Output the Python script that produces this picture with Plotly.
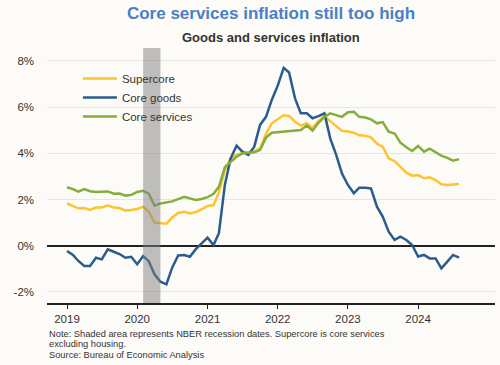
import pandas as pd
import plotly.graph_objects as go

dates = pd.date_range("2019-01-01", "2024-08-01", freq="MS")

supercore = [
    1.83, 1.72, 1.62, 1.63, 1.55, 1.65, 1.65, 1.75, 1.65, 1.63, 1.52, 1.55,
    1.59, 1.69, 1.47, 1.00, 0.97, 0.95, 1.22, 1.42, 1.47, 1.40, 1.46, 1.57,
    1.72, 1.76, 2.30, 3.28, 3.78, 3.93, 4.00, 4.03, 4.08, 4.21, 4.84, 5.30,
    5.47, 5.65, 5.62, 5.37, 5.20, 5.30, 5.10, 5.40, 5.60, 5.38, 5.17, 4.97,
    4.94, 4.89, 4.78, 4.76, 4.69, 4.42, 4.29, 3.78, 3.66, 3.40, 3.16, 3.03,
    3.06, 2.92, 2.96, 2.84, 2.66, 2.63, 2.64, 2.67,
]
core_goods = [
    -0.23, -0.40, -0.66, -0.88, -0.88, -0.52, -0.59, -0.16, -0.26, -0.36, -0.52, -0.48,
    -0.80, -0.45, -0.67, -1.25, -1.56, -1.67, -0.95, -0.42, -0.40, -0.48, -0.15, 0.10,
    0.35, 0.03, 0.54, 2.63, 3.78, 4.33, 4.07, 3.93, 4.29, 5.23, 5.58, 6.31,
    6.93, 7.70, 7.50, 6.38, 5.73, 5.73, 5.52, 5.61, 5.73, 4.65, 3.93, 3.13,
    2.63, 2.27, 2.51, 2.51, 2.48, 1.69, 1.26, 0.61, 0.25, 0.39, 0.25, 0.03,
    -0.47, -0.40, -0.55, -0.55, -0.98, -0.69, -0.40, -0.52,
]
core_services = [
    2.53, 2.45, 2.34, 2.45, 2.36, 2.33, 2.34, 2.35, 2.25, 2.26, 2.17, 2.20,
    2.33, 2.38, 2.25, 1.73, 1.83, 1.86, 1.92, 2.02, 2.12, 2.05, 1.98, 2.02,
    2.10, 2.25, 2.55, 3.40, 3.62, 3.85, 4.00, 4.02, 4.05, 4.14, 4.68, 4.89,
    4.91, 4.94, 4.96, 5.00, 5.01, 5.20, 4.98, 5.32, 5.58, 5.73, 5.65, 5.58,
    5.78, 5.80, 5.58, 5.55, 5.47, 5.30, 5.35, 4.94, 4.86, 4.46, 4.26, 4.10,
    4.32, 4.07, 4.20, 4.03, 3.90, 3.80, 3.68, 3.75,
]

series_names = ["Supercore", "Core goods", "Core services"]
series_values = [supercore, core_goods, core_services]
series_colors = ["#fbc431", "#2b5c8e", "#84ad3e"]

recession_start = "2020-02-01"
recession_end = "2020-05-01"

year_ticks = ["2019-01-01", "2020-01-01", "2021-01-01", "2022-01-01", "2023-01-01", "2024-01-01"]
year_labels = ["2019", "2020", "2021", "2022", "2023", "2024"]
y_ticks = [-2, 0, 2, 4, 6, 8]
y_labels = ["-2%", "0%", "2%", "4%", "6%", "8%"]

note_lines = [
    "Note: Shaded area represents NBER recession dates. Supercore is core services",
    "excluding housing.",
    "Source: Bureau of Economic Analysis",
]

FONT = "Liberation Sans, Arial, sans-serif"
BG = "#fcfbf7"

fig = go.Figure()
for name, vals, col in zip(series_names, series_values, series_colors):
    fig.add_trace(go.Scatter(x=dates, y=vals, name=name, mode="lines",
                             line=dict(color=col, width=2.5)))

fig.add_shape(type="rect", xref="x", yref="paper", x0=recession_start, x1=recession_end,
              y0=0, y1=1, fillcolor="rgba(128,128,128,0.5)", line=dict(width=0), layer="above")

fig.update_layout(
    width=500, height=365,
    margin=dict(l=47, r=5, t=48, b=62),
    paper_bgcolor=BG, plot_bgcolor=BG,
    font=dict(family=FONT, size=11.5, color="#333333"),
    title=dict(text="<b>Core services inflation still too high</b>", x=0.542, xanchor="center",
               y=1 - 13 / 365, yanchor="middle", xref="container", yref="container",
               font=dict(size=17, color="#4a80c4", family=FONT)),
    showlegend=True,
    legend=dict(x=0.069, y=0.937, xanchor="left", yanchor="top", bgcolor="rgba(0,0,0,0)",
                font=dict(size=11.5, color="#333333"), itemwidth=34),
    xaxis=dict(type="date", range=["2018-09-19", "2025-02-04"], tickvals=year_ticks,
               ticktext=year_labels, ticks="outside", ticklen=4, tickcolor="#222222",
               tickwidth=1, showgrid=False, showline=True, linecolor="#222222", linewidth=1.6,
               zeroline=False, tickfont=dict(size=11.5, color="#333333")),
    yaxis=dict(range=[-2.48, 8.56], tickvals=y_ticks, ticktext=y_labels, showgrid=True,
               gridcolor="#e8e6e1", gridwidth=1, zeroline=True, zerolinecolor="#222222",
               zerolinewidth=2, ticks="", ticklabelstandoff=12,
               tickfont=dict(size=11.5, color="#333333")),
)

fig.add_annotation(text="<b>Goods and services inflation</b>", xref="paper", yref="paper",
                   x=0.5, y=(303 - 38) / 255, xanchor="center", yanchor="middle",
                   showarrow=False, font=dict(size=13, color="#333333", family=FONT))

for i, line in enumerate(note_lines):
    ypix = 333.5 + i * 10.5
    fig.add_annotation(text=line, xref="paper", yref="paper", x=0, y=(303 - ypix) / 255,
                       xanchor="left", yanchor="middle", showarrow=False,
                       font=dict(size=9.3, color="#333333", family=FONT))

fig.write_html("out.html", config={"displayModeBar": False},
               post_script="document.body.style.margin='0px';document.body.style.background='" + BG + "';")
